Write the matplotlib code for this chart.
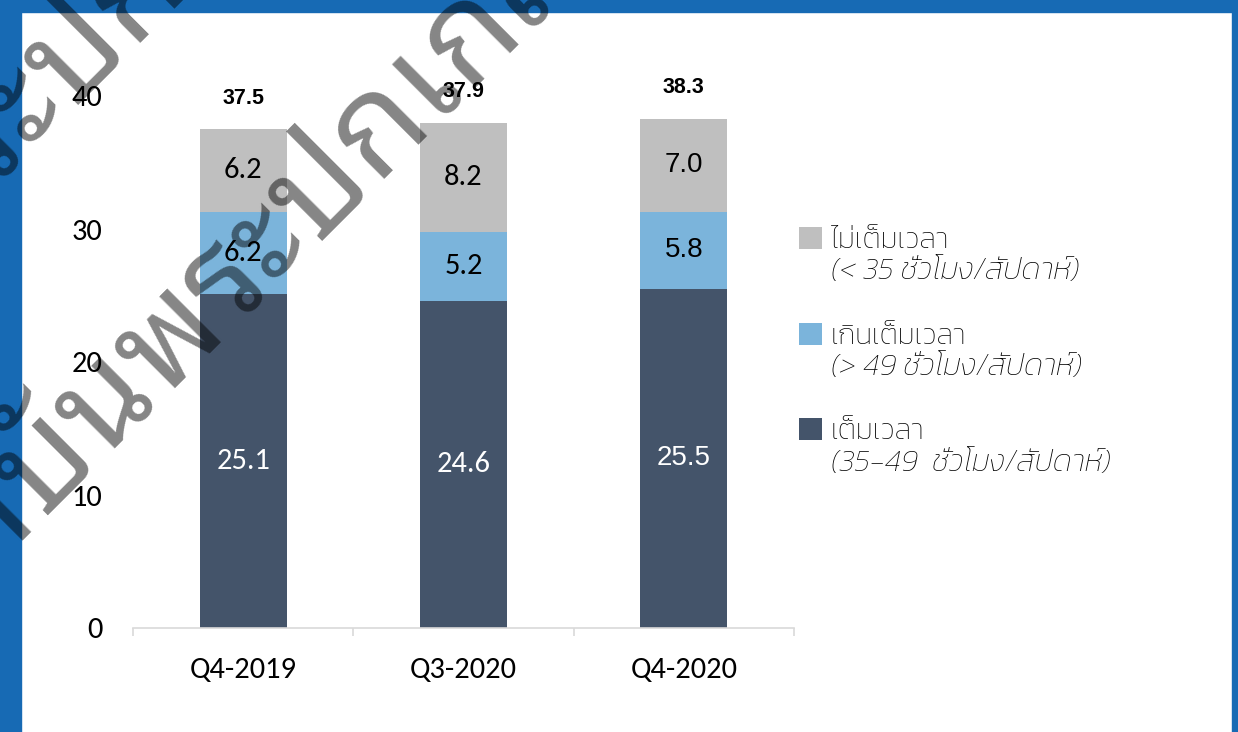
import matplotlib
matplotlib.use("Agg")
import matplotlib.pyplot as plt
import matplotlib.patches as mpatches
import numpy as np

# ข้อมูล: ผู้มีงานทำ (ล้านคน) แยกตามชั่วโมงทำงาน
periods = ["Q4-2019", "Q3-2020", "Q4-2020"]
full_time = [25.1, 24.6, 25.5]    # เต็มเวลา
over_time = [6.2, 5.2, 5.8]       # เกินเต็มเวลา
part_time = [6.2, 8.2, 7.0]       # ไม่เต็มเวลา
totals = [37.5, 37.9, 38.3]

names = ["เต็มเวลา", "เกินเต็มเวลา", "ไม่เต็มเวลา"]
ranges = ["(35-49  ชั่วโมง/สัปดาห์)", "(> 49 ชั่วโมง/สัปดาห์)", "(< 35 ชั่วโมง/สัปดาห์)"]
colors = ["#44546A", "#7BB4DB", "#BFBFBF"]
watermark = "สถาบันพระปกเกล้า"

plt.rcParams["font.family"] = ["Carlito", "DejaVu Sans"]

W, H = 1238, 732
fig = plt.figure(figsize=(W / 100, H / 100), dpi=100, facecolor="white")
ax = fig.add_axes([133 / W, 1 - 628 / H, (794 - 133) / W, (628 - 96) / H])

x = np.arange(len(periods))
bw = 0.395
b1 = ax.bar(x, full_time, bw, color=colors[0], label=names[0])
b2 = ax.bar(x, over_time, bw, bottom=full_time, color=colors[1], label=names[1])
bottom3 = np.add(full_time, over_time)
b3 = ax.bar(x, part_time, bw, bottom=bottom3, color=colors[2], label=names[2])

# ตัวเลขในแท่ง
for bars, c in [(b1, "white"), (b2, "black"), (b3, "black")]:
    labs = ax.bar_label(bars, fmt="%.1f", label_type="center", color=c, fontsize=22)
    labs[2].set_family("Liberation Sans")
    labs[2].set_fontsize(20)

# ผลรวมด้านบน
tops = bottom3 + np.array(part_time)
for i, t in enumerate(totals):
    ax.annotate(f"{t:.1f}", xy=(x[i], tops[i]), xytext=(0, 22.5), textcoords="offset points",
                ha="center", va="center", fontsize=15.5, fontweight="bold",
                family="Liberation Sans")

# แกน
ax.set_xlim(-0.5, 2.5)
ax.set_ylim(0, 40)
ax.set_xticks(x, periods)
ax.set_xticks([-0.5, 0.5, 1.5, 2.5], minor=True)
ax.set_yticks([0, 10, 20, 30, 40])
ax.tick_params(axis="x", which="major", length=0, pad=21, labelsize=22)
ax.tick_params(axis="x", which="minor", length=6, width=1.2, color="#D9D9D9")
ax.tick_params(axis="y", length=0, pad=22, labelsize=22)
for s in ["top", "right", "left"]:
    ax.spines[s].set_visible(False)
ax.spines["bottom"].set_color("#D9D9D9")
ax.spines["bottom"].set_linewidth(1.2)

# คำอธิบาย
leg = ax.legend(handles=[b3, b2, b1], labels=[names[2], names[1], names[0]],
                loc="upper left", bbox_to_anchor=(799 / W, 1 - 227 / H),
                bbox_transform=fig.transFigure, frameon=False,
                prop={"family": "Kanit", "weight": "light", "size": 21},
                handlelength=0.78, handleheight=0.78, handletextpad=0.32,
                labelspacing=2.35, borderpad=0, borderaxespad=0)
for txt, rng in zip(leg.get_texts(), [ranges[2], ranges[1], ranges[0]]):
    ax.annotate(rng, xy=(0, 0), xycoords=txt, xytext=(0, -3), textcoords="offset points",
                ha="left", va="top", fontsize=22, family="Kanit", fontweight="light",
                style="italic", zorder=6, annotation_clip=False)

# กรอบสีน้ำเงิน
blue = "#176AB4"
for (rx, ry, rw, rh) in [(0, 1 - 12 / H, 1, 12 / H), (0, 0, 21 / W, 1), (1232 / W, 0, 6 / W, 1)]:
    fig.add_artist(mpatches.Rectangle((rx, ry), rw, rh, transform=fig.transFigure,
                                      color=blue, zorder=1))

# ลายน้ำ
for (px, py) in [(-116, 671), (-360, 535)]:
    fig.text(px / W, 1 - py / H, watermark, rotation=45, rotation_mode="anchor",
             ha="left", va="baseline", fontsize=98, family="Noto Sans Thai Looped",
             color="black", alpha=0.48, zorder=10)

fig.savefig("out.png", dpi=100)
